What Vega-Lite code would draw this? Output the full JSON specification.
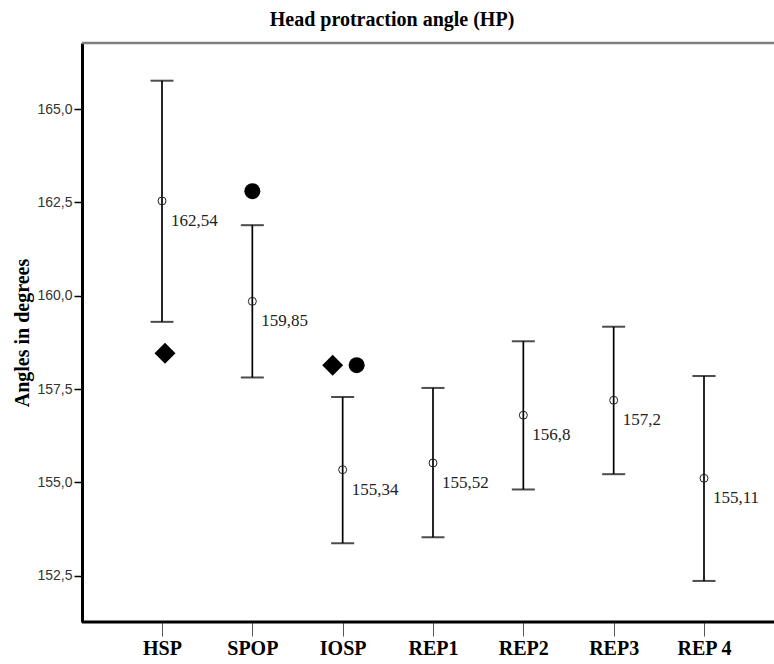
{
  "$schema": "https://vega.github.io/schema/vega-lite/v6.json",
  "width": 692,
  "height": 579,
  "autosize": {"type": "none"},
  "padding": {"left": 82, "top": 43, "right": 0, "bottom": 42},
  "background": "white",
  "config": {"view": {"stroke": null}},
  "title": {
    "text": "Head protraction angle (HP)",
    "font": "Liberation Serif",
    "fontSize": 20,
    "fontWeight": "bold",
    "color": "black",
    "offset": 12,
    "dx": -36,
    "anchor": "middle"
  },
  "datasets": {
    "stats": [
      {"phase": "HSP", "mean": 162.54, "lo": 159.30, "hi": 165.76, "label": "162,54"},
      {"phase": "SPOP", "mean": 159.85, "lo": 157.81, "hi": 161.89, "label": "159,85"},
      {"phase": "IOSP", "mean": 155.34, "lo": 153.37, "hi": 157.29, "label": "155,34"},
      {"phase": "REP1", "mean": 155.52, "lo": 153.53, "hi": 157.53, "label": "155,52"},
      {"phase": "REP2", "mean": 156.8, "lo": 154.81, "hi": 158.78, "label": "156,8"},
      {"phase": "REP3", "mean": 157.2, "lo": 155.22, "hi": 159.17, "label": "157,2"},
      {"phase": "REP 4", "mean": 155.11, "lo": 152.36, "hi": 157.85, "label": "155,11"}
    ],
    "markers": [
      {"phase": "HSP", "value": 158.46, "marker": "diamond", "paired": false},
      {"phase": "SPOP", "value": 162.80, "marker": "circle", "paired": false},
      {"phase": "IOSP", "value": 158.14, "marker": "diamond", "paired": true},
      {"phase": "IOSP", "value": 158.14, "marker": "circle", "paired": true}
    ]
  },
  "layer": [
    {
      "data": {"name": "stats"},
      "mark": {"type": "rule", "color": "black", "strokeWidth": 1.7},
      "encoding": {
        "x": {
          "field": "phase", "type": "nominal", "title": null,
          "scale": {"type": "point", "domain": ["HSP", "SPOP", "IOSP", "REP1", "REP2", "REP3", "REP 4"], "range": [80, 622], "padding": 0},
          "axis": {
            "title": null,
            "labelFont": "Liberation Serif",
            "labelFontSize": 20,
            "labelFontWeight": "bold",
            "labelColor": "black",
            "labelAngle": 0,
            "tickSize": 14,
            "tickColor": "#555555",
            "tickWidth": 1,
            "labelPadding": 2,
            "domain": false,
            "grid": false
          }
        },
        "y": {
          "field": "lo", "type": "quantitative", "title": "Angles in degrees",
          "scale": {"domain": [151.26, 166.77], "nice": false, "zero": false},
          "axis": {
            "title": "Angles in degrees",
            "titleFont": "Liberation Serif",
            "titleFontSize": 20,
            "titleFontWeight": "bold",
            "titleColor": "black",
            "titlePadding": 4,
            "values": [152.5, 155, 157.5, 160, 162.5, 165],
            "labelExpr": "replace(format(datum.value, '.1f'), '.', ',')",
            "labelFont": "Liberation Sans",
            "labelFontSize": 14,
            "labelColor": "#333333",
            "tickSize": 8,
            "tickColor": "black",
            "tickWidth": 1.5,
            "labelPadding": 2,
            "domainColor": "black",
            "domainWidth": 3,
            "grid": false
          }
        },
        "y2": {"field": "hi"}
      }
    },
    {
      "data": {"values": [{}]},
      "mark": {"type": "rule", "color": "#7f7f7f", "strokeWidth": 2.5},
      "encoding": {
        "y": {"datum": 166.77, "type": "quantitative", "title": "Angles in degrees"}
      }
    },
    {
      "data": {"values": [{}]},
      "mark": {"type": "rule", "color": "black", "strokeWidth": 3},
      "encoding": {
        "y": {"datum": 151.26, "type": "quantitative", "title": "Angles in degrees"}
      }
    },
    {
      "data": {"name": "stats"},
      "mark": {"type": "tick", "color": "black", "size": 23, "thickness": 2, "orient": "horizontal"},
      "encoding": {
        "x": {"field": "phase", "type": "nominal", "title": null},
        "y": {"field": "lo", "type": "quantitative", "title": "Angles in degrees"}
      }
    },
    {
      "data": {"name": "stats"},
      "mark": {"type": "tick", "color": "black", "size": 23, "thickness": 2, "orient": "horizontal"},
      "encoding": {
        "x": {"field": "phase", "type": "nominal", "title": null},
        "y": {"field": "hi", "type": "quantitative", "title": "Angles in degrees"}
      }
    },
    {
      "data": {"name": "stats"},
      "mark": {"type": "point", "shape": "circle", "filled": false, "size": 64, "stroke": "#222222", "strokeWidth": 1, "opacity": 1},
      "encoding": {
        "x": {"field": "phase", "type": "nominal", "title": null},
        "y": {"field": "mean", "type": "quantitative", "title": "Angles in degrees"}
      }
    },
    {
      "data": {"name": "stats"},
      "mark": {"type": "text", "font": "Liberation Serif", "fontSize": 17, "color": "#222222", "align": "left", "baseline": "middle", "dx": 9, "dy": 20},
      "encoding": {
        "x": {"field": "phase", "type": "nominal", "title": null},
        "y": {"field": "mean", "type": "quantitative", "title": "Angles in degrees"},
        "text": {"field": "label", "type": "nominal"}
      }
    },
    {
      "data": {"name": "markers"},
      "transform": [{"filter": "datum.marker == 'diamond' && !datum.paired"}],
      "mark": {"type": "point", "shape": "diamond", "filled": true, "size": 440, "color": "black", "opacity": 1, "xOffset": 3},
      "encoding": {
        "x": {"field": "phase", "type": "nominal", "title": null},
        "y": {"field": "value", "type": "quantitative", "title": "Angles in degrees"}
      }
    },
    {
      "data": {"name": "markers"},
      "transform": [{"filter": "datum.marker == 'diamond' && datum.paired"}],
      "mark": {"type": "point", "shape": "diamond", "filled": true, "size": 440, "color": "black", "opacity": 1, "xOffset": -10},
      "encoding": {
        "x": {"field": "phase", "type": "nominal", "title": null},
        "y": {"field": "value", "type": "quantitative", "title": "Angles in degrees"}
      }
    },
    {
      "data": {"name": "markers"},
      "transform": [{"filter": "datum.marker == 'circle' && !datum.paired"}],
      "mark": {"type": "point", "shape": "circle", "filled": true, "size": 256, "color": "black", "opacity": 1},
      "encoding": {
        "x": {"field": "phase", "type": "nominal", "title": null},
        "y": {"field": "value", "type": "quantitative", "title": "Angles in degrees"}
      }
    },
    {
      "data": {"name": "markers"},
      "transform": [{"filter": "datum.marker == 'circle' && datum.paired"}],
      "mark": {"type": "point", "shape": "circle", "filled": true, "size": 256, "color": "black", "opacity": 1, "xOffset": 14},
      "encoding": {
        "x": {"field": "phase", "type": "nominal", "title": null},
        "y": {"field": "value", "type": "quantitative", "title": "Angles in degrees"}
      }
    }
  ]
}
